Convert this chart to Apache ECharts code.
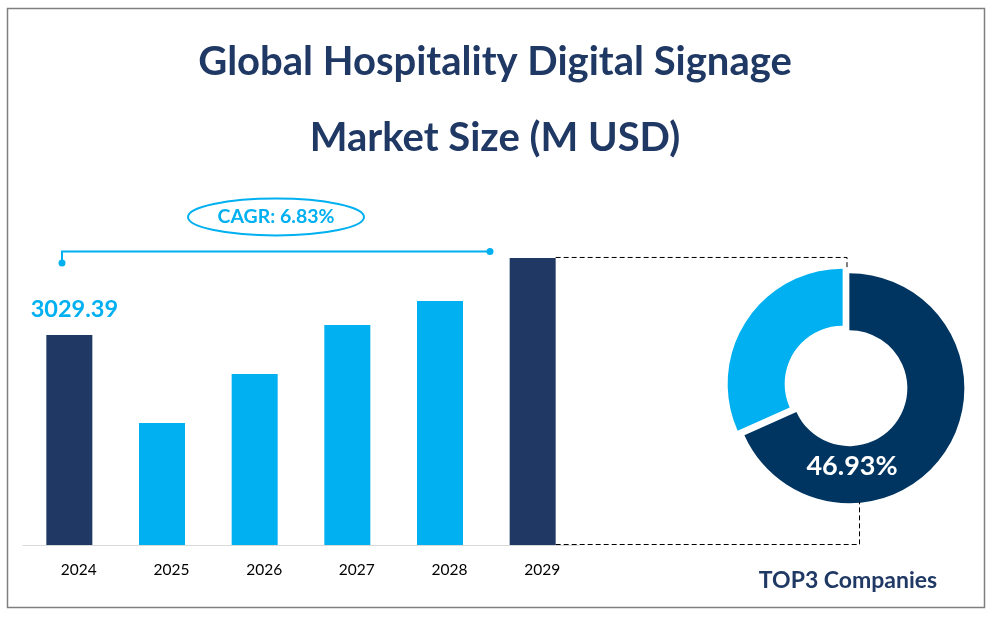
<!DOCTYPE html>
<html>
<head>
<meta charset="utf-8">
<script src="https://cdn.jsdelivr.net/npm/echarts@6/dist/echarts.min.js"></script>
<style>html,body{margin:0;padding:0;background:#fff;}#c{width:990px;height:629px;}</style>
</head>
<body>
<div id="c"></div>
<script>
const titleLines = ['Global Hospitality Digital Signage', 'Market Size (M USD)'];
const years = ['2024', '2025', '2026', '2027', '2028', '2029'];
const marketSize = [3029.39, 1760, 2467, 3174, 3520, 4140];
const firstLabel = '3029.39';
const cagrText = 'CAGR: 6.83%';
const donutNames = ['TOP3 Companies', 'Others'];
const donutValues = [68.3, 31.7];
const donutLabel = '46.93%';
const donutCaption = 'TOP3 Companies';

const DARK = '#1f3864';
const LIGHT = '#00b0f0';
const PIE_DARK = '#003561';
const FONT = 'Lato';

const chart = echarts.init(document.getElementById('c'), null, {renderer: 'canvas'});
const last = years.length - 1;

const option = {
  backgroundColor: '#fff',
  animation: false,
  title: {
    text: titleLines.join('\n'),
    left: 'center',
    top: 19,
    textStyle: {fontFamily: FONT, fontSize: 40, fontWeight: 'bold', color: DARK, lineHeight: 76}
  },
  grid: {left: 23, right: 411, top: 233, bottom: 84, containLabel: false},
  xAxis: {
    type: 'category',
    data: years,
    axisLine: {lineStyle: {color: '#d9d9d9', width: 1}},
    axisTick: {show: false},
    axisLabel: {color: '#000', fontFamily: FONT, fontSize: 15.5, margin: 17, padding: [0, 0, 0, 19]}
  },
  yAxis: {type: 'value', min: 0, max: 4500, show: false, splitLine: {show: false}},
  series: [
    {
      type: 'bar',
      data: marketSize,
      barWidth: 46,
      itemStyle: {color: p => (p.dataIndex === 0 || p.dataIndex === last) ? DARK : LIGHT},
      label: {
        show: true,
        position: 'top',
        distance: 14,
        offset: [5, 0],
        formatter: p => p.dataIndex === 0 ? firstLabel : '',
        fontFamily: FONT, fontSize: 23.5, fontWeight: 'bold', color: LIGHT
      }
    },
    {
      type: 'pie',
      center: [846, 386],
      radius: [58, 115],
      startAngle: 90,
      clockwise: true,
      selectedMode: 'multiple',
      selectedOffset: 4,
      label: {show: false},
      labelLine: {show: false},
      emphasis: {disabled: true},
      data: donutNames.map((n, i) => ({
        name: n, value: donutValues[i], selected: true,
        itemStyle: {color: i === 0 ? PIE_DARK : LIGHT}
      }))
    }
  ]
};
chart.setOption(option);

const topPt = chart.convertToPixel({seriesIndex: 0}, [last, marketSize[last]]);
const basePt = chart.convertToPixel({seriesIndex: 0}, [last, 0]);
const barRight = topPt[0] + 23;
const dash = {stroke: '#000', lineWidth: 1, lineDash: [5, 3]};

chart.setOption({
  graphic: [
    {type: 'rect', shape: {x: 7.5, y: 8.5, width: 977, height: 599}, style: {fill: 'none', stroke: '#7f7f7f', lineWidth: 1.5}, silent: true, z: 0},
    {type: 'polyline', shape: {points: [[barRight, topPt[1] - 0.5], [847, topPt[1] - 0.5], [847, 270]]}, style: Object.assign({fill: null}, dash), z: 10},
    {type: 'polyline', shape: {points: [[barRight, basePt[1] - 0.5], [859.5, basePt[1] - 0.5], [859.5, 502]]}, style: Object.assign({fill: null}, dash), z: 10},
    {type: 'polyline', shape: {points: [[62, 263], [62, 251.5], [490, 251.5]]}, style: {fill: null, stroke: LIGHT, lineWidth: 2}, z: 10},
    {type: 'circle', shape: {cx: 62, cy: 263, r: 3.5}, style: {fill: LIGHT}, z: 11},
    {type: 'circle', shape: {cx: 490, cy: 251.5, r: 3.5}, style: {fill: LIGHT}, z: 11},
    {type: 'ellipse', shape: {cx: 276, cy: 217, rx: 88, ry: 18.5}, style: {fill: '#fff', stroke: LIGHT, lineWidth: 2}, z: 10},
    {type: 'text', x: 276, y: 217, style: {text: cagrText, fill: LIGHT, font: 'bold 19.5px ' + FONT, align: 'center', verticalAlign: 'middle'}, z: 12},
    {type: 'text', x: 852, y: 466, style: {text: donutLabel, fill: '#fff', font: 'bold 27px ' + FONT, align: 'center', verticalAlign: 'middle'}, z: 12},
    {type: 'text', x: 848, y: 581, style: {text: donutCaption, fill: DARK, font: 'bold 23px ' + FONT, align: 'center', verticalAlign: 'middle'}, z: 12}
  ]
});
</script>
</body>
</html>
